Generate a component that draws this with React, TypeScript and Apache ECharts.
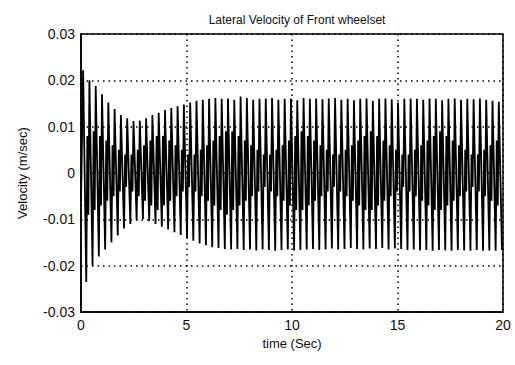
import React, { useEffect, useRef } from "react";
import * as echarts from "echarts";

const xTicks = [0, 5, 10, 15, 20];
const firstPeakTime = 0.1;
const cyclePeriod = 0.2985;

// cycle-by-cycle peak (top) values
const peakTop = [
  0.0222, 0.02, 0.0188, 0.017, 0.0152, 0.0138, 0.0125, 0.0118, 0.0112, 0.0113,
  0.0118, 0.0125, 0.013, 0.0136, 0.014, 0.0144, 0.0148, 0.0152, 0.0156, 0.0158,
  0.016, 0.0162, 0.016, 0.0161, 0.0158, 0.0165, 0.0162, 0.0158, 0.016, 0.0161,
  0.0162, 0.0158, 0.016, 0.0161, 0.0157, 0.0162, 0.016, 0.0161, 0.0159, 0.0161,
  0.0162, 0.0158, 0.016, 0.0157, 0.016, 0.0161, 0.0156, 0.016, 0.0161, 0.0159,
  0.0152, 0.016, 0.0161, 0.016, 0.0158, 0.0161, 0.016, 0.0157, 0.016, 0.0161,
  0.0158, 0.016, 0.0159, 0.0161, 0.0158, 0.0156, 0.0154,
];
// cycle-by-cycle trough (bottom) values
const peakBottom = [
  -0.0235, -0.02, -0.018, -0.0165, -0.015, -0.0135, -0.012, -0.011, -0.0102, -0.01,
  -0.0104, -0.011, -0.0116, -0.0122, -0.0128, -0.0134, -0.014, -0.0146, -0.0152, -0.0156,
  -0.016, -0.0162, -0.0164, -0.0165, -0.0164, -0.0166, -0.0165, -0.0167, -0.0165, -0.0166,
  -0.0168, -0.0166, -0.0165, -0.0167, -0.0166, -0.0165, -0.0164, -0.0166, -0.0165, -0.0163,
  -0.0165, -0.0164, -0.0162, -0.0164, -0.0165, -0.0163, -0.0164, -0.0162, -0.0165, -0.0163,
  -0.0164, -0.0166, -0.0165, -0.0167, -0.0166, -0.0168, -0.0166, -0.0167, -0.0168, -0.0166,
  -0.0167, -0.0168, -0.0166, -0.0168, -0.0167, -0.0168, -0.0166,
];
// inner (grey hatched) swing within each cycle
const innerHigh = [
  0.008, 0.009, 0.008, 0.007, 0.006, 0.005, 0.004, 0.004, 0.005, 0.006,
  0.007, 0.008, 0.008, 0.007, 0.006, 0.005, 0.004, 0.004, 0.005, 0.006,
  0.007, 0.008, 0.009, 0.009, 0.008, 0.007, 0.006, 0.005, 0.004, 0.004,
  0.005, 0.006, 0.007, 0.008, 0.009, 0.008, 0.007, 0.006, 0.005, 0.004,
  0.004, 0.005, 0.006, 0.007, 0.008, 0.009, 0.008, 0.007, 0.006, 0.005,
  0.004, 0.004, 0.005, 0.006, 0.007, 0.008, 0.009, 0.008, 0.007, 0.006,
  0.005, 0.004, 0.004, 0.005, 0.006, 0.007, 0.008,
];
const innerLow = [
  -0.009, -0.008, -0.007, -0.006, -0.005, -0.004, -0.003, -0.004, -0.005, -0.006,
  -0.007, -0.008, -0.007, -0.006, -0.005, -0.004, -0.003, -0.004, -0.005, -0.006,
  -0.007, -0.008, -0.009, -0.008, -0.007, -0.006, -0.005, -0.004, -0.003, -0.004,
  -0.005, -0.006, -0.007, -0.008, -0.008, -0.007, -0.006, -0.005, -0.004, -0.003,
  -0.004, -0.005, -0.006, -0.007, -0.008, -0.008, -0.007, -0.006, -0.005, -0.004,
  -0.003, -0.004, -0.005, -0.006, -0.007, -0.008, -0.008, -0.007, -0.006, -0.005,
  -0.004, -0.003, -0.004, -0.005, -0.006, -0.007, -0.007,
];

function buildSeries(): [number, number][] {
  const pts: [number, number][] = [[0, -0.006]];
  for (let k = 0; k < peakTop.length; k++) {
    const t = firstPeakTime + k * cyclePeriod;
    pts.push([t, peakTop[k]]);
    pts.push([t + cyclePeriod * 0.5, peakBottom[k]]);
    pts.push([t + cyclePeriod * 0.67, innerHigh[k]]);
    pts.push([t + cyclePeriod * 0.84, innerLow[k]]);
  }
  return pts.filter((p) => p[0] <= 20);
}

export default function App() {
  const ref = useRef<HTMLDivElement>(null);
  useEffect(() => {
    if (!ref.current) return;
    const chart = echarts.init(ref.current, undefined, { renderer: "svg" });
    const font = "'Liberation Sans', Arial, sans-serif";
    const grid = { color: "#000", type: [1.5, 4], width: 1.5 };
    chart.setOption({
      animation: false,
      backgroundColor: "#fff",
      title: {
        text: "Lateral Velocity of Front wheelset",
        left: 292,
        textAlign: "center",
        top: 9,
        textStyle: { fontFamily: font, fontSize: 12, fontWeight: "normal", color: "#111" },
      },
      grid: {
        left: 81,
        right: 12,
        top: 34,
        bottom: 53,
        show: true,
        borderColor: "#000",
        borderWidth: 1.5,
        backgroundColor: "transparent",
      },
      xAxis: {
        type: "value",
        min: 0,
        max: 20,
        interval: 5,
        name: "time (Sec)",
        nameLocation: "middle",
        nameGap: 22,
        nameTextStyle: { fontFamily: font, fontSize: 13, color: "#111" },
        axisLine: { show: true, onZero: false, lineStyle: { color: "#000", width: 1.5 } },
        axisTick: { show: false },
        axisLabel: {
          fontFamily: font,
          fontSize: 14,
          color: "#111",
          margin: 6,
          customValues: xTicks,
          formatter: (v: number) => String(v),
        },
        splitLine: { show: true, lineStyle: grid },
      },
      yAxis: {
        type: "value",
        min: -0.03,
        max: 0.03,
        interval: 0.01,
        name: "Velocity (m/sec)",
        nameLocation: "middle",
        nameGap: 52,
        nameTextStyle: { fontFamily: font, fontSize: 13, color: "#111" },
        axisLine: { show: true, onZero: false, lineStyle: { color: "#000", width: 1.5 } },
        axisTick: { show: false },
        axisLabel: {
          fontFamily: font,
          fontSize: 14,
          color: "#111",
          margin: 6,
          formatter: (v: number) => {
            const r = Math.round(v * 100) / 100;
            return r === 0 ? "0" : r.toFixed(2);
          },
        },
        splitLine: { show: true, lineStyle: grid },
      },
      series: [
        {
          type: "line",
          data: buildSeries(),
          showSymbol: false,
          symbol: "none",
          lineStyle: { color: "#000", width: 1.8 },
        },
      ],
    });
    return () => chart.dispose();
  }, []);
  return <div ref={ref} style={{ width: 515, height: 365, position: "absolute", left: 0, top: 0 }} />;
}
